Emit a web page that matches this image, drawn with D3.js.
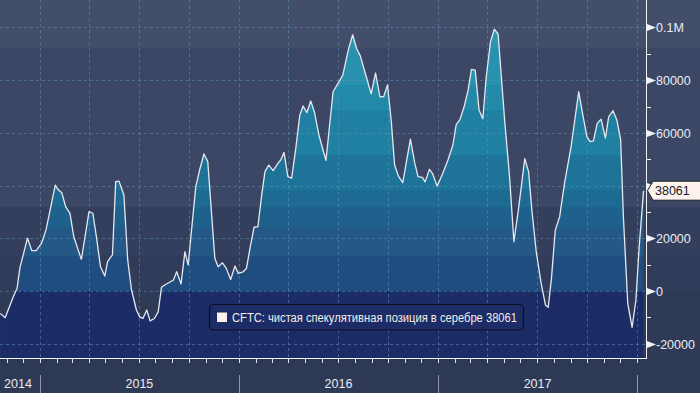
<!DOCTYPE html>
<html><head><meta charset="utf-8">
<script src="https://cdn.jsdelivr.net/npm/d3@7"></script>
<style>body{margin:0;background:#2e3955;overflow:hidden;} text{font-family:"Liberation Sans",Arial,sans-serif;}</style>
</head><body><svg id="c" width="700" height="393"></svg>
<script>
const dates = [
"2014-10-20","2014-10-29","2014-11-13","2014-11-20","2014-11-25","2014-12-09","2014-12-17","2014-12-25",
"2015-01-04","2015-01-12","2015-01-19","2015-01-29","2015-02-04","2015-02-10","2015-02-17","2015-02-25",
"2015-03-04","2015-03-12","2015-03-18","2015-04-01","2015-04-08","2015-04-15","2015-04-22","2015-04-30",
"2015-05-05","2015-05-09","2015-05-14","2015-05-20","2015-05-26","2015-06-04","2015-06-11","2015-06-18",
"2015-06-27","2015-07-03","2015-07-09","2015-07-16","2015-07-22","2015-07-30","2015-08-06","2015-08-12",
"2015-08-18","2015-09-03","2015-09-09","2015-09-17","2015-09-24","2015-09-30","2015-10-14","2015-10-21",
"2015-10-29","2015-11-05","2015-11-18","2015-11-24","2015-12-02","2015-12-09","2015-12-17","2015-12-25",
"2015-12-31","2016-01-09","2016-01-15","2016-01-22","2016-01-29","2016-02-05","2016-02-12","2016-02-18",
"2016-02-25","2016-03-04","2016-03-13","2016-03-18","2016-03-24","2016-03-31","2016-04-07","2016-04-15",
"2016-04-22","2016-04-28","2016-05-05","2016-05-12","2016-05-19","2016-05-27","2016-06-09","2016-06-22",
"2016-07-06","2016-07-10","2016-07-20","2016-07-28","2016-08-04","2016-08-11","2016-08-22","2016-08-31",
"2016-09-08","2016-09-16","2016-09-23","2016-09-30","2016-10-07","2016-10-13","2016-10-20","2016-10-28",
"2016-11-11","2016-11-19","2016-11-25","2016-12-03","2016-12-08","2016-12-16","2016-12-22","2016-12-30",
"2017-01-09","2017-01-19","2017-01-28","2017-02-03","2017-02-10","2017-02-18","2017-02-25","2017-03-03",
"2017-03-10","2017-03-17","2017-03-24","2017-03-30","2017-04-07","2017-04-14","2017-04-21","2017-05-03",
"2017-05-12","2017-05-20","2017-05-29","2017-06-09","2017-06-16","2017-06-22","2017-06-30","2017-07-09",
"2017-07-17","2017-07-22","2017-07-28","2017-08-04","2017-08-12","2017-08-21","2017-09-02","2017-09-16",
"2017-09-23","2017-10-01","2017-10-07","2017-10-13","2017-10-20","2017-10-27","2017-11-04","2017-11-10",
"2017-11-18","2017-11-25","2017-12-02","2017-12-07","2017-12-15","2017-12-23","2017-12-30","2018-01-05",
"2018-01-13"];
const values = [
-8500,-10100,-2200,1100,8700,20100,15300,15300,
18200,23200,30100,40200,38300,37300,32000,29500,
20600,15600,12000,30100,29500,20000,9200,5700,
11100,12400,13700,41500,41700,36400,11800,400,
-7200,-9800,-10400,-7200,-11300,-10400,-7900,1400,
2300,4200,7300,2700,14900,9900,39600,45900,
52000,49100,12400,9200,10700,8600,4400,9500,
6700,7300,8600,16800,24200,24400,36400,45300,
47800,45700,48500,49700,52600,43400,42800,54800,
66800,70200,67700,72100,67700,59200,49500,75600,
80500,82000,91500,97200,92100,89200,81300,74800,
82700,73700,73800,78200,64100,47800,43600,41100,
57600,48500,43400,43100,41400,46200,44400,39800,
44400,49700,55400,63000,65100,70200,76300,84100,
83800,68700,65400,80800,94500,99300,97500,64900,
43400,18700,32000,50200,45200,30700,14900,2900,
-5300,-6200,4900,23100,28200,40900,54800,75600,
67400,58600,56700,57000,63600,65200,58000,66100,
68400,64900,57300,28200,-4700,-13800,-3400,16800,
38061];
const yTickValues = [100000, 80000, 60000, 40000, 20000, 0, -20000];
const yTickLabels = ["0.1M", "80000", "60000", "40000", "20000", "0", "-20000"];
const minorTickValues = [90000, 70000, 50000, 30000, 10000, -10000];
const yearLabels = ["2014", "2015", "2016", "2017"];
const lastValue = 38061;
const seriesName = "CFTC: чистая спекулятивная позиция в серебре";

const W = 700, H = 393, plotR = 646, plotB = 358;
const parse = d3.utcParse("%Y-%m-%d");
const data = dates.map((d, i) => ({date: parse(d), value: values[i]}));
const x = d3.scaleUtc().domain([new Date(Date.UTC(2015,0,1)), new Date(Date.UTC(2018,0,1))]).range([40, 637]);
const y = d3.scaleLinear().domain([-25400, 110400]).range([plotB, 0]);
const svg = d3.select("#c");

// background bands
svg.append("rect").attr("width", W).attr("height", H).attr("fill", "#2e3955");
const bgBands = [[0,48,"#434f6a"],[48,207,"#3b4764"],[207,256,"#343f5d"],[256,291,"#313c5a"],[291,358,"#2f3a57"]];
bgBands.forEach(b => svg.append("rect").attr("x", 0).attr("y", b[0]).attr("width", W).attr("height", b[1]-b[0]).attr("fill", b[2]));

const defs = svg.append("defs");
const area = d3.area().x(d => x(d.date)).y0(plotB).y1(d => y(d.value));
defs.append("clipPath").attr("id", "areaClip").append("path").attr("d", area(data));
defs.append("clipPath").attr("id", "plotClip").append("rect").attr("x", 0).attr("y", 0).attr("width", plotR).attr("height", plotB);

const fillBands = [[0,48,"#2b96b3"],[48,85,"#2791ae"],[85,110,"#2389a8"],[110,155,"#2080a2"],[155,190,"#1e7399"],
  [190,207,"#1d6a93"],[207,227,"#1e618d"],[227,256,"#245887"],[256,291,"#1f4d80"],[291,358,"#1c2c66"]];
const fg = svg.append("g").attr("clip-path", "url(#areaClip)");
fillBands.forEach(b => fg.append("rect").attr("x", 0).attr("y", b[0]).attr("width", plotR).attr("height", b[1]-b[0]).attr("fill", b[2]));

// grid
const grid = svg.append("g").attr("clip-path", "url(#plotClip)")
  .attr("stroke", "#5f93b5").attr("stroke-opacity", 0.55).attr("stroke-dasharray", "3,3").attr("stroke-width", 1);
yTickValues.forEach(v => grid.append("line").attr("x1", 0).attr("x2", plotR).attr("y1", Math.round(y(v))+0.5).attr("y2", Math.round(y(v))+0.5));
const quarters = d3.utcMonth.every(3).range(new Date(Date.UTC(2014,9,1)), new Date(Date.UTC(2018,1,1)));
quarters.forEach(q => { const xx = Math.round(x(q))+0.5; if (xx > 0 && xx < plotR) grid.append("line").attr("x1", xx).attr("x2", xx).attr("y1", 0).attr("y2", plotB); });

// line
svg.append("path").datum(data).attr("fill", "none").attr("stroke", "#e6e8ef").attr("stroke-width", 1.3)
  .attr("stroke-linejoin", "round").attr("clip-path", "url(#plotClip)")
  .attr("d", d3.line().x(d => x(d.date)).y(d => y(d.value)));

// axes lines
svg.append("line").attr("x1", plotR+0.5).attr("x2", plotR+0.5).attr("y1", 0).attr("y2", plotB+0.5).attr("stroke", "#f2f2f5").attr("stroke-width", 1);
svg.append("line").attr("x1", 0).attr("x2", plotR+1).attr("y1", plotB+0.5).attr("y2", plotB+0.5).attr("stroke", "#f2f2f5").attr("stroke-width", 1);

// right axis ticks & labels (labels hidden where the last-value tag covers them)
const ly = y(lastValue);
const ya = svg.append("g");
yTickValues.forEach((v, i) => {
  const yy = Math.round(y(v)) + 0.5;
  ya.append("path").attr("d", `M${plotR+1},${yy-3.5}L${plotR+10},${yy}L${plotR+1},${yy+3.5}Z`).attr("fill", "#f2f2f5");
  if (Math.abs(yy - ly) > 14)
    ya.append("text").attr("x", plotR+10).attr("y", yy+4.5).attr("fill", "#e9ecf3").attr("font-size", "12.5px").text(yTickLabels[i]);
});
minorTickValues.forEach(v => {
  const yy = Math.round(y(v)) + 0.5;
  ya.append("line").attr("x1", plotR+1).attr("x2", plotR+5).attr("y1", yy).attr("y2", yy).attr("stroke", "#f2f2f5");
});

// bottom month ticks
const months = d3.utcMonth.range(new Date(Date.UTC(2014,9,1)), new Date(Date.UTC(2018,1,1)));
months.forEach(m => { const xx = Math.round(x(m))+0.5; if (xx > 0 && xx < plotR) svg.append("line").attr("x1", xx).attr("x2", xx).attr("y1", plotB+1).attr("y2", plotB+5).attr("stroke", "#dfe2ea"); });

// year separators & labels
const yearStarts = [2015, 2016, 2017, 2018].map(yr => new Date(Date.UTC(yr,0,1)));
yearStarts.forEach(ys => { const xx = Math.round(x(ys))+0.5; svg.append("line").attr("x1", xx).attr("x2", xx).attr("y1", 375).attr("y2", H).attr("stroke", "#8c95aa"); });
yearLabels.forEach((lab, i) => {
  const yr = +lab;
  const x0 = Math.max(0, x(new Date(Date.UTC(yr,0,1))));
  const x1 = x(new Date(Date.UTC(yr+1,0,1)));
  svg.append("text").attr("x", (x0+x1)/2 - (i === 0 ? 2 : 0)).attr("y", 388).attr("text-anchor", "middle")
    .attr("fill", "#e9ecf3").attr("font-size", "12.5px").text(lab);
});

// last value tag
svg.append("path").attr("d", `M${plotR+1.5},${ly}L${plotR+7},${ly-9.5}L${W+2},${ly-9.5}L${W+2},${ly+9.5}L${plotR+7},${ly+9.5}Z`)
  .attr("fill", "#fdf2ec").attr("stroke", "#1a1d2a").attr("stroke-width", 1);
svg.append("text").attr("x", plotR+9).attr("y", ly+4.5).attr("fill", "#15182a").attr("font-size", "12.5px").text(String(lastValue));

// legend
const lg = svg.append("g");
lg.append("rect").attr("x", 209.5).attr("y", 304.5).attr("width", 314).attr("height", 25.5).attr("rx", 4)
  .attr("fill", "#1c2c66").attr("stroke", "#0c0f1c").attr("stroke-width", 1.2);
lg.append("rect").attr("x", 217).attr("y", 312.5).attr("width", 10).attr("height", 9.5).attr("fill", "#fdf2ec");
lg.append("text").attr("x", 232).attr("y", 321.5).attr("fill", "#f3efe9").attr("font-size", "12px")
  .attr("textLength", 285).attr("lengthAdjust", "spacingAndGlyphs")
  .text(seriesName + " " + lastValue);
</script></body></html>
